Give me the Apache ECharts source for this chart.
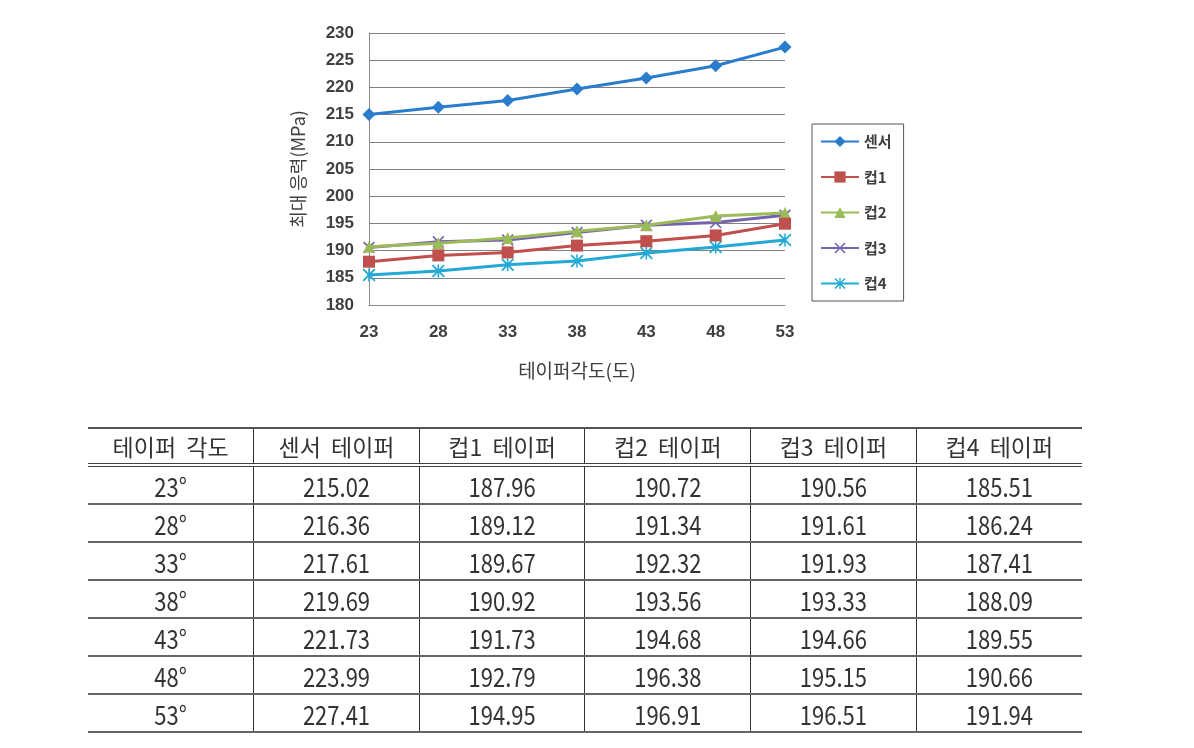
<!DOCTYPE html>
<html>
<head>
<meta charset="utf-8">
<script src="https://cdn.jsdelivr.net/npm/echarts@6/dist/echarts.min.js"></script>
<style>
  html, body { margin: 0; padding: 0; background: #ffffff; }
  #chart { position: absolute; left: 0; top: 0; width: 1194px; height: 748px; }
  #tbl { position: absolute; left: 88px; top: 427px; width: 994px; border-collapse: collapse; table-layout: fixed;
         font-family: "Noto Sans CJK KR", "Noto Sans", sans-serif; color: #333; z-index: 2; }
  #tbl th, #tbl td { text-align: center; padding: 0; border-left: 1px solid #333; overflow: hidden; white-space: nowrap; }
  #tbl th:first-child, #tbl td:first-child { border-left: none; }
  #tbl th { font-weight: 400; font-size: 23px; height: 34px; word-spacing: 5px; border-top: 2px solid #555; border-bottom: 4px double #444; }
  #tbl td { font-size: 22px; height: 36px; border-bottom: 2px solid #666; }
  #tbl td span { display: inline-block; transform: scaleY(1.2); }
</style>
</head>
<body>
<div id="chart"></div>
<table id="tbl"></table>
<script>
// ---- data ----
const categories = ['23', '28', '33', '38', '43', '48', '53'];
const seriesNames = ['센서', '컵1', '컵2', '컵3', '컵4'];
const sensor = [215.02, 216.36, 217.61, 219.69, 221.73, 223.99, 227.41];
const cup1 = [187.96, 189.12, 189.67, 190.92, 191.73, 192.79, 194.95];
const cup2 = [190.72, 191.34, 192.32, 193.56, 194.68, 196.38, 196.91];
const cup3 = [190.56, 191.61, 191.93, 193.33, 194.66, 195.15, 196.51];
const cup4 = [185.51, 186.24, 187.41, 188.09, 189.55, 190.66, 191.94];
const tableHeaders = ['테이퍼 각도', '센서 테이퍼', '컵1 테이퍼', '컵2 테이퍼', '컵3 테이퍼', '컵4 테이퍼'];
const yTitle = '최대 응력(MPa)';
const xTitle = '테이퍼각도(도)';

// ---- styles ----
const colors = ['#2a7dcc', '#c0504d', '#9bbb59', '#7563b0', '#22a9d6'];
const symXShape = 'path://M1,0L5,4L9,0L10,1L6,5L10,9L9,10L5,6L1,10L0,9L4,5L0,1Z';
const symAsterisk = 'path://M1,0L5,4L9,0L10,1L6,5L10,9L9,10L5,6L1,10L0,9L4,5L0,1ZM4.4,0L5.6,0L5.6,10L4.4,10Z';
const symbols = ['diamond', 'rect', 'triangle', symXShape, symAsterisk];
const symbolSizes = [13, 12, 12, 12, 13];
const dataSets = [sensor, cup1, cup2, cup3, cup4];

const chart = echarts.init(document.getElementById('chart'));
const labelColor = '#404040';

chart.setOption({
  animation: false,
  backgroundColor: '#ffffff',
  grid: { left: 369, right: 409, top: 33, bottom: 443 },
  legend: {
    orient: 'vertical',
    left: 812, top: 124,
    padding: [10, 12, 10, 8],
    itemGap: 20.5,
    itemWidth: 38, itemHeight: 14,
    borderColor: '#555', borderWidth: 1,
    textStyle: { fontSize: 15, fontWeight: 'bold', color: labelColor, fontFamily: 'Noto Sans CJK KR' },
    data: seriesNames
  },
  xAxis: {
    type: 'category',
    data: categories,
    boundaryGap: false,
    axisLine: { show: true, lineStyle: { color: '#8a8a8a', width: 1 } },
    axisTick: { show: false },
    axisLabel: { margin: 19, fontSize: 17, fontWeight: 'bold', color: labelColor, fontFamily: 'Liberation Sans' },
    name: xTitle,
    nameLocation: 'middle',
    nameGap: 56,
    nameTextStyle: { fontSize: 19, color: labelColor, fontFamily: 'Noto Sans CJK KR' }
  },
  yAxis: {
    type: 'value',
    min: 180, max: 230, interval: 5,
    axisLine: { show: true, lineStyle: { color: '#8a8a8a', width: 1 } },
    axisTick: { show: false },
    splitLine: { show: true, lineStyle: { color: '#808080', width: 1 } },
    axisLabel: { margin: 15, fontSize: 17, fontWeight: 'bold', color: labelColor, fontFamily: 'Liberation Sans' },
    name: yTitle,
    nameLocation: 'middle',
    nameRotate: 90,
    nameGap: 62,
    nameTextStyle: { fontSize: 18, color: labelColor, fontFamily: 'Noto Sans CJK KR' }
  },
  series: seriesNames.map((n, i) => ({
    name: n,
    type: 'line',
    data: dataSets[i],
    symbol: symbols[i],
    symbolSize: symbolSizes[i],
    showAllSymbol: true,
    lineStyle: { color: colors[i], width: 3 },
    itemStyle: { color: colors[i] },
    z: 10 - i
  }))
});

// ---- table ----
const tbl = document.getElementById('tbl');
let html = '<tr>' + tableHeaders.map(h => '<th>' + h + '</th>').join('') + '</tr>';
categories.forEach((c, r) => {
  html += '<tr><td><span>' + c + '°</span></td>' +
    dataSets.map(d => '<td><span>' + d[r].toFixed(2) + '</span></td>').join('') + '</tr>';
});
tbl.innerHTML = html;
</script>
</body>
</html>
